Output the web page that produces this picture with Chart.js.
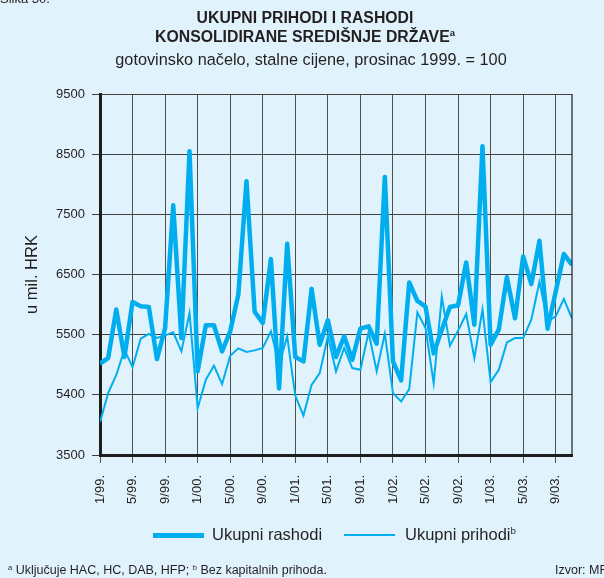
<!DOCTYPE html>
<html lang="hr">
<head>
<meta charset="utf-8">
<title>Ukupni prihodi i rashodi</title>
<script src="https://cdn.jsdelivr.net/npm/chart.js@4.4.1/dist/chart.umd.min.js"></script>
<style>
  html, body { margin: 0; padding: 0; background: #e0f2fc; }
  #wrap { position: relative; width: 604px; height: 578px; overflow: hidden; font-family: "Liberation Sans", Arial, sans-serif; color: #231f20; }
  #chart { position: absolute; left: 0; top: 0; }
  .txt { position: absolute; white-space: nowrap; }
  sup { font-size: 60%; vertical-align: 0; position: relative; top: -0.6em; }
  .head { left: 0; width: 610px; text-align: center; font-family: "Liberation Sans Narrow", "Liberation Sans", Arial, sans-serif; font-weight: bold; font-size: 15.8px; }
  .swatch { position: absolute; height: 0; background: #00aeef; }
</style>
</head>
<body>
<div id="wrap">
  <canvas id="chart" width="604" height="578"></canvas>
  <div class="txt" style="left:0;top:-9px;font-size:13px;">Slika 30.</div>
  <div class="txt head" style="top:9px;">UKUPNI PRIHODI I RASHODI</div>
  <div class="txt head" style="top:28px;">KONSOLIDIRANE SREDIŠNJE DRŽAVE<sup>a</sup></div>
  <div class="txt" style="left:0;width:622px;text-align:center;top:50px;font-size:16.3px;">gotovinsko načelo, stalne cijene, prosinac 1999. = 100</div>

  <div class="swatch" style="left:153px;top:533px;width:51px;height:5px;"></div>
  <div class="txt" style="left:212px;top:525px;font-size:16.5px;">Ukupni rashodi</div>
  <div class="swatch" style="left:344px;top:534px;width:51px;height:2px;"></div>
  <div class="txt" style="left:405px;top:525px;font-size:16.5px;">Ukupni prihodi<sup>b</sup></div>

  <div class="txt" style="left:8px;top:563px;font-size:12.5px;"><sup>a</sup> Uključuje HAC, HC, DAB, HFP; <sup>b</sup> Bez kapitalnih prihoda.</div>
  <div class="txt" style="left:555px;top:563px;font-size:12.5px;">Izvor: MF</div>
</div>
<script>
"use strict";

// mjeseci 1/99. - 11/03.
var months = [];
for (var yr = 1999; yr <= 2003; yr++) {
    for (var mo = 1; mo <= 12; mo++) {
        if (yr === 2003 && mo > 11) break;
        months.push(mo + "/" + String(yr).slice(2) + ".");
    }
}

// oznake na osi y (odozdo prema gore)
var yTickText = ["3500", "5400", "5500", "6500", "7500", "8500", "9500"];

// u mil. HRK
var rashodi = [
    5020, 5110, 5917, 5130, 6044, 5972, 5961, 5094, 5611, 7650, 5444, 8550,
    4890, 5656, 5656, 5222, 5556, 6167, 8050, 5883, 5694, 6756, 4606, 7011,
    5128, 5056, 6261, 5333, 5739, 5128, 5472, 5083, 5600, 5639, 5350, 8122,
    5056, 4739, 6367, 6060, 5967, 5189, 5583, 5961, 5989, 6700, 5667, 8633,
    5333, 5583, 6456, 5772, 6800, 6339, 7061, 5600, 6217, 6840, 6661
];
var prihodi = [
    4047, 4528, 4830, 5251, 4960, 5434, 5511, 5445, 5489, 5538, 5223, 5860,
    4279, 4749, 4985, 4678, 5150, 5273, 5213, 5239, 5278, 5555, 5000, 5473,
    4483, 4156, 4666, 4860, 5473, 4891, 5279, 4945, 4917, 5538, 4891, 5517,
    4528, 4389, 4595, 5870, 5611, 4694, 6133, 5317, 5567, 5844, 5111, 5917,
    4711, 4917, 5372, 5444, 5444, 5750, 6378, 5722, 5806, 6094, 5767
];

function toPoints(arr) {
    return arr.map(function (v, i) { return { x: i, y: v }; });
}

var FONT = "'Liberation Sans', Arial, sans-serif";
var BLUE = "#00aeef";

// desni rub područja grafikona
var rightEdge = {
    id: "rightEdge",
    afterDraw: function (chart) {
        var a = chart.chartArea, ctx = chart.ctx;
        ctx.save();
        ctx.strokeStyle = "#1e1e1e";
        ctx.lineWidth = 1.2;
        ctx.beginPath();
        ctx.moveTo(a.right, a.top);
        ctx.lineTo(a.right, a.bottom);
        ctx.stroke();
        ctx.restore();
    }
};

var myChart = new Chart(document.getElementById("chart"), {
    type: "line",
    data: {
        datasets: [
            {
                label: "Ukupni rashodi",
                data: toPoints(rashodi),
                borderColor: BLUE,
                borderWidth: 4.5,
                pointRadius: 0,
                tension: 0,
                borderJoinStyle: "round",
            },
            {
                label: "Ukupni prihodi",
                data: toPoints(prihodi),
                borderColor: BLUE,
                borderWidth: 2,
                pointRadius: 0,
                tension: 0,
            },
        ],
    },
    options: {
        responsive: false,
        animation: false,
        layout: { padding: { top: 94, right: 32, left: 0, bottom: 0 } },
        plugins: {
            legend: { display: false },
            tooltip: { enabled: false },
        },
        scales: {
            x: {
                type: "linear",
                min: 0,
                max: 58,
                afterFit: function (s) { s.height = 123; },
                grid: { color: "#505050", lineWidth: 1, tickLength: 8, tickColor: "#505050" },
                border: { color: "#1e1e1e", width: 3 },
                ticks: {
                    stepSize: 4,
                    includeBounds: false,
                    autoSkip: false,
                    minRotation: 90,
                    maxRotation: 90,
                    padding: 12,
                    color: "#231f20",
                    font: { family: FONT, size: 13 },
                    callback: function (v) { return months[v]; },
                },
            },
            y: {
                min: 3500,
                max: 9500,
                afterFit: function (s) { s.width = 100; },
                grid: { color: "#404040", lineWidth: 1, tickLength: 8, tickColor: "#404040" },
                border: { color: "#1e1e1e", width: 3 },
                ticks: {
                    stepSize: 1000,
                    padding: 7,
                    color: "#231f20",
                    font: { family: FONT, size: 13 },
                    callback: function (v, i) { return yTickText[i]; },
                },
                title: {
                    display: true,
                    text: "u mil. HRK",
                    color: "#231f20",
                    font: { family: FONT, size: 16.5 },
                    padding: { top: 23, bottom: 0 },
                },
            },
        },
    },
    plugins: [rightEdge],
});
</script>
</body>
</html>
